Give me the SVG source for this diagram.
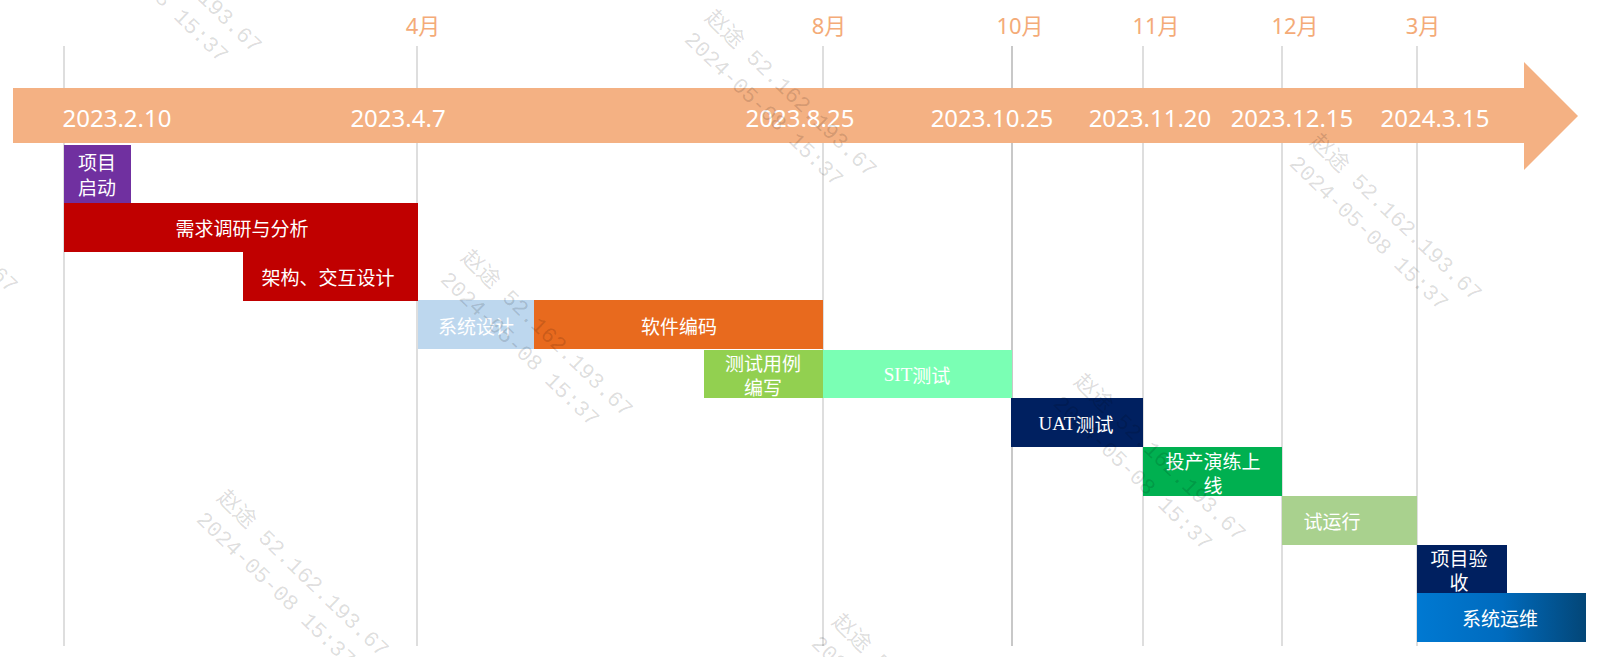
<svg xmlns="http://www.w3.org/2000/svg" width="1599" height="657" viewBox="0 0 1599 657">
<style>
.grid{stroke:#c8c8c8;stroke-width:1.2;fill:none}
.month{font-family:"Noto Sans","Noto Sans CJK SC",sans-serif;font-size:22px;fill:#F4AB78;text-anchor:middle}
.date{font-family:"Noto Sans","Noto Sans CJK SC",sans-serif;font-size:24px;fill:#ffffff;text-anchor:middle}
.lbl{font-family:"Noto Sans CJK SC","Noto Sans",sans-serif;font-size:19px;fill:#ffffff;text-anchor:middle;dominant-baseline:central}
.lat{font-family:"Liberation Serif","Noto Sans CJK SC",serif}
.wm{font-family:"Liberation Mono","Noto Sans CJK SC",monospace;font-size:22px;fill:#000000;fill-opacity:0.14}
</style>
<defs>
<linearGradient id="gOps" x1="0" y1="0" x2="1" y2="0">
<stop offset="0" stop-color="#0079D2"/>
<stop offset="0.5" stop-color="#006BBE"/>
<stop offset="1" stop-color="#034677"/>
</linearGradient>
<g id="wmark">
<text class="wm" x="0" y="0">赵途  52.162.193.67</text>
<text class="wm" x="0" y="30">2024-05-08 15:37</text>
</g>
</defs>
<rect width="1599" height="657" fill="#ffffff"/>

<g id="connectors">
<line class="grid" x1="64" y1="46" x2="64" y2="646"/>
<line class="grid" x1="417" y1="46" x2="417" y2="646"/>
<line class="grid" x1="823" y1="46" x2="823" y2="646"/>
<line class="grid" x1="1012" y1="46" x2="1012" y2="646" style="stroke-width:2"/>
<line class="grid" x1="1143" y1="46" x2="1143" y2="646"/>
<line class="grid" x1="1282" y1="46" x2="1282" y2="646"/>
<line class="grid" x1="1417" y1="46" x2="1417" y2="646"/>
</g>

<g id="timeline-arrow">
<polygon points="13,88 1524,88 1524,62 1578,116 1524,170 1524,143 13,143" fill="#F4B183"/>
</g>

<g id="month-labels">
<text class="month" x="423" y="34">4月</text>
<text class="month" x="829" y="34">8月</text>
<text class="month" x="1020" y="34">10月</text>
<text class="month" x="1156" y="34">11月</text>
<text class="month" x="1295" y="34">12月</text>
<text class="month" x="1423" y="34">3月</text>
</g>

<g id="date-labels">
<text class="date" x="117" y="127">2023.2.10</text>
<text class="date" x="398" y="127">2023.4.7</text>
<text class="date" x="800" y="127">2023.8.25</text>
<text class="date" x="992" y="127">2023.10.25</text>
<text class="date" x="1150" y="127">2023.11.20</text>
<text class="date" x="1292" y="127">2023.12.15</text>
<text class="date" x="1435" y="127">2024.3.15</text>
</g>

<g id="task-kickoff">
<rect x="64" y="145" width="67" height="58" fill="#7030A0"/>
<text class="lbl" x="97" y="161">项目</text>
<text class="lbl" x="97" y="186">启动</text>
</g>
<g id="task-requirements">
<rect x="64" y="203" width="354" height="49" fill="#C00000"/>
<text class="lbl" x="242" y="227">需求调研与分析</text>
</g>
<g id="task-architecture">
<rect x="243" y="252" width="175" height="49" fill="#C00000"/>
<text class="lbl" x="328" y="276">架构、交互设计</text>
</g>
<g id="task-system-design">
<rect x="418" y="300" width="116" height="49" fill="#BDD7EE"/>
<text class="lbl" x="476" y="325">系统设计</text>
</g>
<g id="task-coding">
<rect x="534" y="300" width="289" height="49" fill="#E86A1E"/>
<text class="lbl" x="679" y="325">软件编码</text>
</g>
<g id="task-testcase">
<rect x="704" y="350" width="119" height="48" fill="#92D050"/>
<text class="lbl" x="763" y="362">测试用例</text>
<text class="lbl" x="763" y="386">编写</text>
</g>
<g id="task-sit">
<rect x="823" y="350" width="189" height="48" fill="#7AFFB4"/>
<text class="lbl" x="917" y="374"><tspan class="lat">SIT</tspan>测试</text>
</g>
<g id="task-uat">
<rect x="1011" y="398" width="132" height="49" fill="#002060"/>
<text class="lbl" x="1076" y="423"><tspan class="lat">UAT</tspan>测试</text>
</g>
<g id="task-rehearsal">
<rect x="1143" y="447" width="139" height="49" fill="#00B050"/>
<text class="lbl" x="1213" y="460">投产演练上</text>
<text class="lbl" x="1213" y="484">线</text>
</g>
<g id="task-trial">
<rect x="1282" y="496" width="135" height="49" fill="#A9D18E"/>
<text class="lbl" x="1332" y="520">试运行</text>
</g>
<g id="task-acceptance">
<rect x="1417" y="545" width="90" height="48" fill="#002060"/>
<text class="lbl" x="1459" y="557">项目验</text>
<text class="lbl" x="1459" y="581">收</text>
</g>
<g id="task-operations">
<rect x="1417" y="593" width="169" height="49" fill="url(#gOps)"/>
<text class="lbl" x="1500" y="617">系统运维</text>
</g>

<g id="watermarks">
<use href="#wmark" transform="translate(89,-105) rotate(44)"/>
<use href="#wmark" transform="translate(704,19) rotate(44)"/>
<use href="#wmark" transform="translate(1309,143) rotate(44)"/>
<use href="#wmark" transform="translate(-155,135) rotate(44)"/>
<use href="#wmark" transform="translate(460,259) rotate(44)"/>
<use href="#wmark" transform="translate(1073,383) rotate(44)"/>
<use href="#wmark" transform="translate(216,499) rotate(44)"/>
<use href="#wmark" transform="translate(831,623) rotate(44)"/>
</g>
</svg>
